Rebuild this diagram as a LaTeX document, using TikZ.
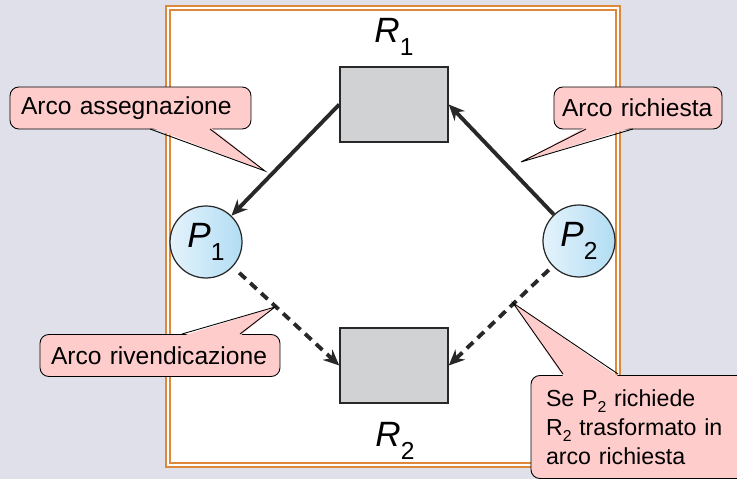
\documentclass[tikz,border=0pt]{standalone}
\usepackage{fontspec}
\setmainfont{Liberation Sans}
\usetikzlibrary{arrows.meta}
\definecolor{pageGray}{RGB}{223,224,234}
\definecolor{frameOrange}{RGB}{222,136,58}
\definecolor{boxGray}{RGB}{208,210,212}
\definecolor{edgeDark}{RGB}{40,40,40}
\definecolor{notePink}{RGB}{255,204,204}
\definecolor{procLight}{RGB}{228,243,252}
\definecolor{procBlue}{RGB}{178,221,243}
\newcommand{\nodeLabel}[2]{\textit{#1}\raisebox{-0.35em}{\fontsize{14}{14}\selectfont #2}}
\newcommand{\noteSub}[1]{\raisebox{-0.25em}{\fontsize{9}{9}\selectfont #1}}

\begin{document}
\begin{tikzpicture}[x=0.02cm, y=-0.02cm]
            \tikzstyle{resource} = [draw=edgeDark, fill=boxGray, line width=0.9pt, minimum width=2.16cm, minimum height=1.5cm]
            \tikzstyle{process} = [circle, draw=edgeDark, line width=0.7pt, left color=procLight, right color=procBlue, minimum size=1.44cm, inner sep=0pt, font=\fontsize{20}{20}\selectfont]
            \tikzstyle{reslabel} = [font=\fontsize{20}{20}\selectfont]
            \tikzstyle{assign} = [-{Stealth[length=9pt, width=8pt]}, line width=2.2pt, draw=edgeDark]
            \tikzstyle{claim} = [assign, dash pattern=on 5pt off 3.5pt]
            \tikzstyle{note} = [draw=black, fill=notePink, rounded corners=5pt, line width=0.5pt, align=left, inner xsep=0.22cm, minimum height=0.84cm, font=\fontsize{14}{16.6}\selectfont]
            \useasboundingbox[fill=pageGray] (0, 0) rectangle (737, 479);
            % frame
            \fill[white] (166, 6) rectangle (620, 467);
            \draw[frameOrange, line width=1.1pt] (166, 6) rectangle (620, 467);
            \draw[frameOrange, line width=1.1pt] (170, 10) rectangle (616, 463);

            \node[resource] (r1) at (394, 104.5) {};
            \node[resource] (r2) at (394, 365.5) {};
            \node[reslabel] (r1lab) at (394, 37) {\nodeLabel{R}{1}};
            \node[reslabel] (r2lab) at (395, 441) {\nodeLabel{R}{2}};
            \node[process] (p1) at (206, 242) {\nodeLabel{P}{1}};
            \node[process] (p2) at (579, 241) {\nodeLabel{P}{2}};

            \draw[assign] (r1.west) -- (p1);
            \draw[assign] (p2) -- (r1.east);
            \draw[claim, shorten <=5pt] (p1) -- (r2.west);
            \draw[claim, shorten <=3pt] (p2) -- (r2.east);

            % callouts
            \coordinate (tipAssign) at (265, 171);
            \coordinate (tipRequest) at (521, 162);
            \coordinate (tipClaim) at (275, 307);
            \coordinate (tipChange) at (513, 303);
            \node[note, text width=4.38cm] (nAssign) at (130.5, 108) {Arco assegnazione};
            \node[note, text width=3.04cm, inner xsep=0.16cm] (nRequest) at (638, 108) {Arco richiesta};
            \node[note, text width=4.36cm] (nClaim) at (160, 355.5) {Arco rivendicazione};
            \node[note, text width=3.9cm, inner xsep=0.3cm, minimum height=2.06cm, font=\fontsize{13.2}{16.4}\selectfont] (nChange) at (643.5, 427)
                {Se P\noteSub{2} richiede\\R\noteSub{2} trasformato in\\arco richiesta};
            \fill[notePink] (150, 127) -- (tipAssign) -- (210, 127) -- cycle;
            \draw[line width=0.5pt] (150, 129) -- (tipAssign) -- (210, 129);
            \fill[notePink] (586, 127) -- (tipRequest) -- (633, 127) -- cycle;
            \draw[line width=0.5pt] (586, 129) -- (tipRequest) -- (633, 129);
            \fill[notePink] (182, 336) -- (tipClaim) -- (240, 336) -- cycle;
            \draw[line width=0.5pt] (182, 334) -- (tipClaim) -- (240, 334);
            \fill[notePink] (563, 376) -- (tipChange) -- (618, 376) -- cycle;
            \draw[line width=0.5pt] (563, 374) -- (tipChange) -- (618, 374);
        \end{tikzpicture}
\end{document}
